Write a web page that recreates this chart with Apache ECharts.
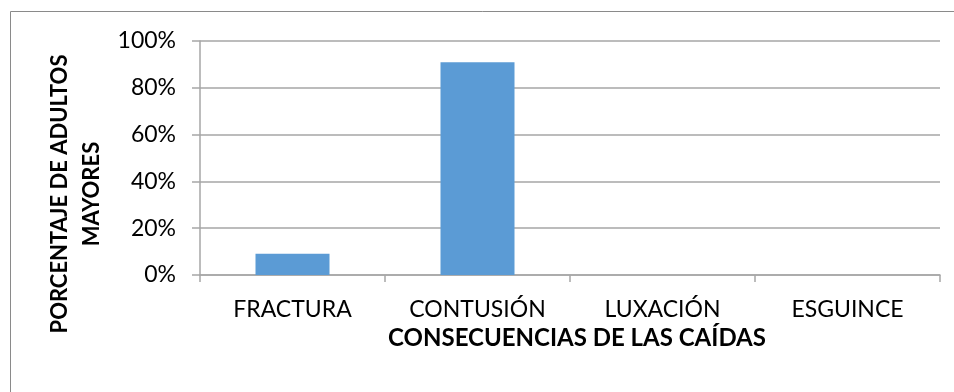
<!DOCTYPE html>
<html>
<head>
<meta charset="utf-8">
<script src="https://cdn.jsdelivr.net/npm/echarts@6/dist/echarts.min.js"></script>
<style>
  html, body { margin: 0; padding: 0; background: #fff; }
  #chart { width: 954px; height: 392px; }
</style>
</head>
<body>
<div id="chart"></div>
<script>
// Consequences of falls among older adults (share of cases, %)
const categories = ['FRACTURA', 'CONTUSIÓN', 'LUXACIÓN', 'ESGUINCE'];
const percentages = [9.1, 90.9, 0, 0];
const yTicks = { min: 0, max: 100, interval: 20 };

const xTitle = 'CONSECUENCIAS DE LAS CAÍDAS';
const yTitleLines = ['PORCENTAJE DE ADULTOS', 'MAYORES'];

const FONT = 'Lato';
const chart = echarts.init(document.getElementById('chart'), null, { renderer: 'canvas' });

chart.setOption({
  animation: false,
  backgroundColor: '#fff',
  textStyle: { fontFamily: FONT },
  grid: { left: 200, right: 14, top: 41, bottom: 117, containLabel: false },
  graphic: [
    {
      type: 'rect',
      shape: { x: 10.5, y: 11.5, width: 960, height: 400 },
      style: { fill: 'none', stroke: '#8a8a8a', lineWidth: 1 },
      silent: true
    },
    {
      type: 'text',
      x: 76, y: 194,
      rotation: Math.PI / 2,
      style: {
        text: yTitleLines.join('\n'),
        font: 'bold 22px ' + FONT,
        fill: '#000',
        align: 'center',
        verticalAlign: 'middle',
        lineHeight: 32
      }
    }
  ],
  xAxis: {
    type: 'category',
    data: categories,
    name: xTitle,
    nameLocation: 'middle',
    nameGap: 49,
    nameTextStyle: { fontFamily: FONT, fontSize: 24, fontWeight: 'bold', color: '#000', padding: [0, 0, 0, 14] },
    axisLine: { show: true, lineStyle: { color: '#a6a6a6', width: 1.5 } },
    axisTick: { show: true, length: 7, alignWithLabel: false, lineStyle: { color: '#a6a6a6', width: 1.5 } },
    axisLabel: { fontFamily: FONT, fontSize: 23, color: '#000', margin: 23 }
  },
  yAxis: {
    type: 'value',
    min: yTicks.min,
    max: yTicks.max,
    interval: yTicks.interval,
    axisLine: { show: true, lineStyle: { color: '#a6a6a6', width: 1.5 } },
    axisTick: { show: true, length: 8, lineStyle: { color: '#a6a6a6', width: 1.5 } },
    axisLabel: { fontFamily: FONT, fontSize: 23, color: '#000', margin: 24, formatter: '{value}%' },
    splitLine: { show: true, lineStyle: { color: '#a6a6a6', width: 1.5 } }
  },
  series: [{
    type: 'bar',
    data: percentages,
    barCategoryGap: '60%',
    itemStyle: { color: '#5b9bd5' }
  }]
});
</script>
</body>
</html>
